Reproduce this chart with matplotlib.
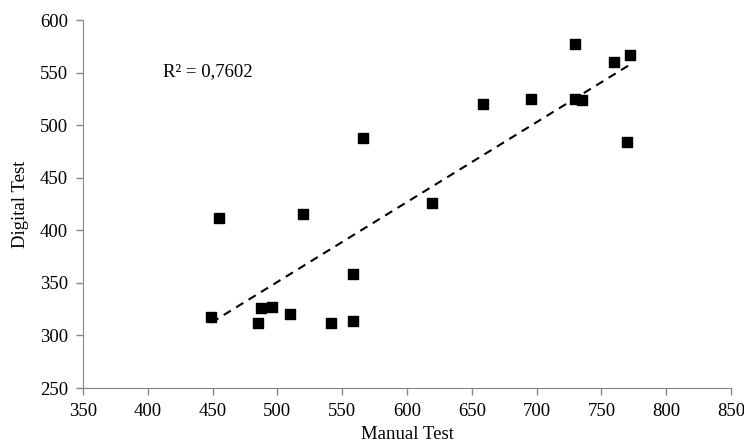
import numpy as np
import matplotlib.pyplot as plt

# Manual test vs digital test scores
manual = [449, 455, 485, 487, 496, 510, 520, 541, 558, 558, 566,
          619, 659, 696, 730, 730, 735, 760, 770, 772]
digital = [318, 412, 312, 326, 327, 320, 416, 312, 358, 314, 488,
           426, 520, 525, 577, 525, 524, 560, 484, 567]
r2_label = "R² = 0,7602"

plt.rcParams['font.family'] = ['Liberation Serif', 'DejaVu Serif']

fig = plt.figure(figsize=(7.44, 4.46), dpi=100)
ax = fig.add_axes([0.1116, 0.130, 0.8709, 0.825])

ax.scatter(manual, digital, marker='s', s=42, color='black', zorder=3)

# linear trend line over the data range
coef = np.polyfit(manual, digital, 1)
xs = np.array([min(manual), max(manual)])
ax.plot(xs, np.polyval(coef, xs), color='black', linestyle=(0, (4, 3)), linewidth=1.5)

ax.text(412, 551, r2_label, fontsize=13.5, va='center', ha='left')

ax.set_xlim(350, 850)
ax.set_ylim(250, 600)
ax.set_xticks(np.arange(350, 851, 50))
ax.set_yticks(np.arange(250, 601, 50))
ax.tick_params(labelsize=13.5, color='#868686', length=5, width=1, pad=6)
ax.set_xlabel('Manual Test', fontsize=13.5, labelpad=4)
ax.set_ylabel('Digital Test', fontsize=13.5, labelpad=8)

for side in ['top', 'right']:
    ax.spines[side].set_visible(False)
for side in ['left', 'bottom']:
    ax.spines[side].set_color('#868686')

fig.savefig('out.png', dpi=100)
